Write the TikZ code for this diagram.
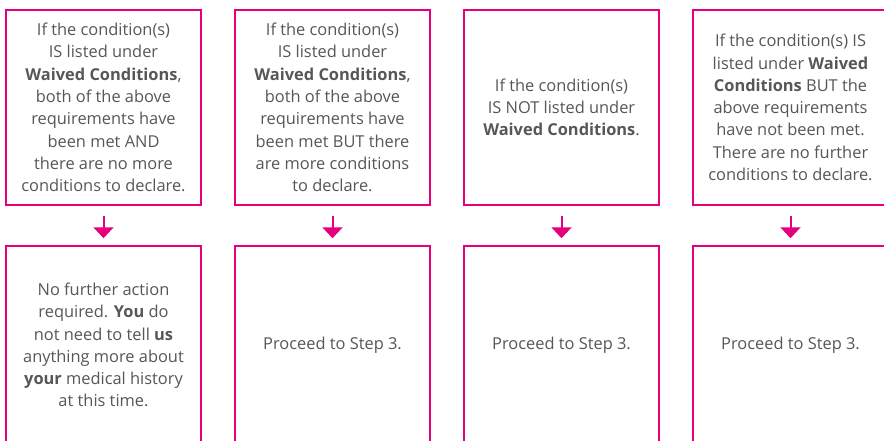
\documentclass[tikz,border=0pt]{standalone}
\usepackage{fontspec}
\setmainfont{Open Sans}
\usetikzlibrary{arrows.meta}
\definecolor{pinkc}{HTML}{E6007E}
\definecolor{textc}{HTML}{575757}
\tikzset{
  box/.style={draw=pinkc, line width=1.5pt, minimum width=195pt, minimum height=195pt,
    inner sep=0pt, align=center, text=textc, font=\fontsize{16.4}{22.3}\selectfont},
  lowbox/.style={box, minimum height=198pt},
  downarrow/.style={draw=pinkc, line width=2pt, -{Triangle[width=20pt,length=11pt]},
    shorten <=10pt, shorten >=7pt}
}
\begin{document}
\begin{tikzpicture}[x=1pt,y=1pt]
\clip (0,0) rectangle (884,440);
\fill[white] (0,0) rectangle (884,440);
\node[box] (t1) at (103.5,332.5) {If the condition(s)\\IS listed under\\\textbf{Waived Conditions},\\both of the above\\requirements have\\been met AND\\there are no more\\conditions to declare.};
\node[box] (t2) at (332.5,332.5) {If the condition(s)\\IS listed under\\\textbf{Waived Conditions},\\both of the above\\requirements have\\been met BUT there\\are more conditions\\to declare.};
\node[box] (t3) at (561.5,332.5) {If the condition(s)\\IS NOT listed under\\\textbf{Waived Conditions}.};
\node[box] (t4) at (790.5,332.5) {If the condition(s) IS\\listed under \textbf{Waived}\\\textbf{Conditions} BUT the\\above requirements\\have not been met.\\There are no further\\conditions to declare.};
\node[lowbox] (b1) at (103.5,95) {No further action\\required. \textbf{You} do\\not need to tell \textbf{us}\\anything more about\\\textbf{your} medical history\\at this time.};
\node[lowbox] (b2) at (332.5,95) {Proceed to Step 3.};
\node[lowbox] (b3) at (561.5,95) {Proceed to Step 3.};
\node[lowbox] (b4) at (790.5,95) {Proceed to Step 3.};
\draw[downarrow] (t1) -- (b1);
\draw[downarrow] (t2) -- (b2);
\draw[downarrow] (t3) -- (b3);
\draw[downarrow] (t4) -- (b4);
\end{tikzpicture}
\end{document}
